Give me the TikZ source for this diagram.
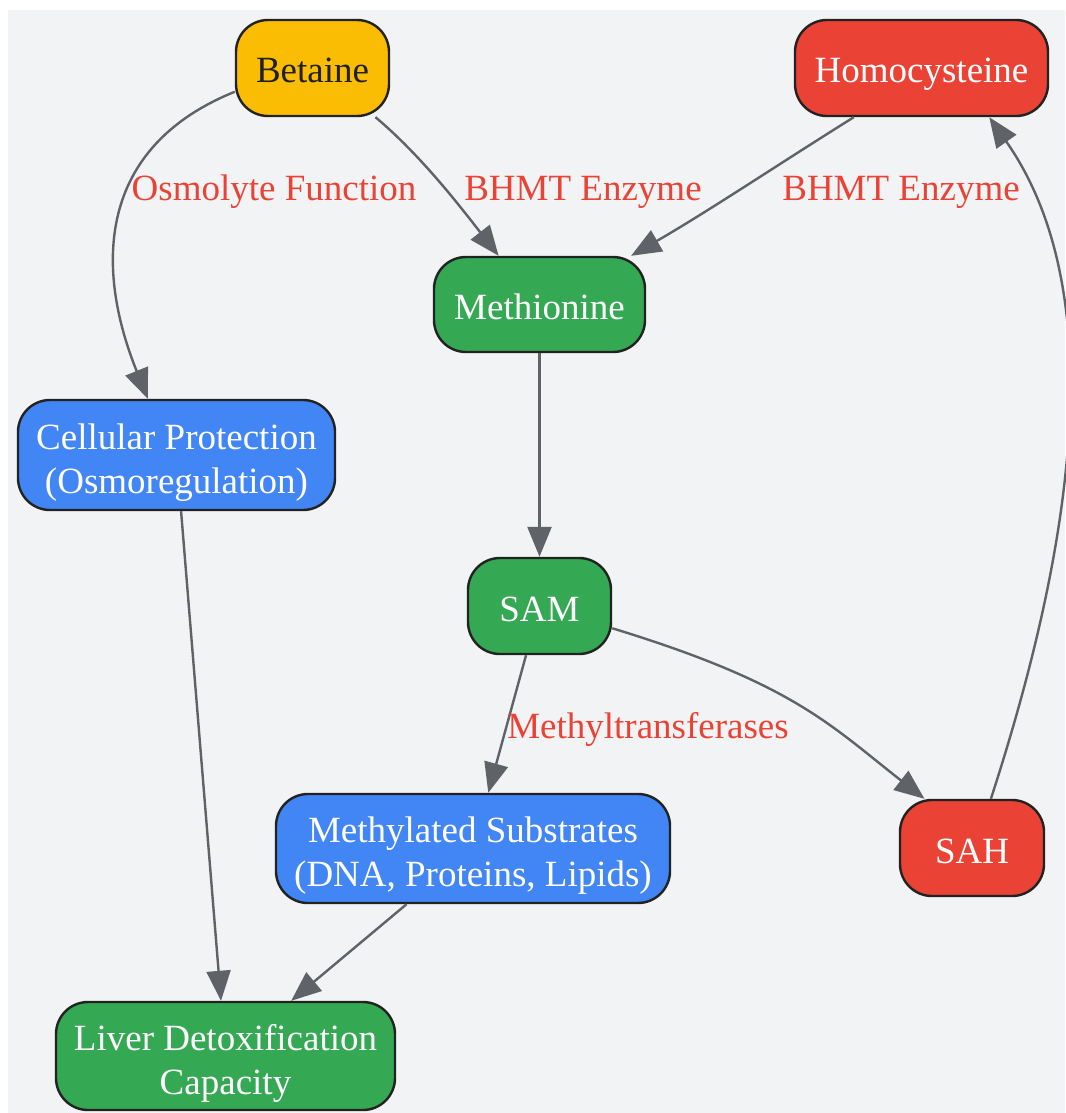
\documentclass[tikz,border=0pt]{standalone}
\usepackage{fontspec}
\setmainfont{Liberation Serif}
\usetikzlibrary{arrows.meta}
\definecolor{bgc}{HTML}{F1F3F4}
\definecolor{bord}{HTML}{222222}
\definecolor{cyel}{HTML}{FBBC04}
\definecolor{cred}{HTML}{EA4335}
\definecolor{cgreen}{HTML}{34A853}
\definecolor{cblue}{HTML}{4285F4}
\definecolor{edgec}{HTML}{5F6368}
\definecolor{darktext}{HTML}{202124}
\newcommand{\bigfs}{\fontsize{37}{44}\selectfont}
\tikzset{
  box/.style={draw=bord, line width=2.4pt, rounded corners=32pt, inner sep=0pt,
              align=center, font=\bigfs, text=white},
  oneline/.style={text height=34pt, text depth=4pt},
  twoline/.style={text height=82pt, text depth=6pt},
  conn/.style={draw=edgec, line width=2.4pt, -{Triangle[length=30pt,width=24pt]}},
  elabel/.style={font=\bigfs, text=cred, inner sep=0pt, text height=34pt, text depth=4pt}
}
\begin{document}
\begin{tikzpicture}[x=1pt,y=1pt]
\useasboundingbox (0,0) rectangle (1065,-1113);
\fill[bgc] (8,-10) rectangle (1065,-1113);

\node[box, oneline, fill=cyel, text=darktext, minimum width=153pt, minimum height=96pt] (bet) at (312.5,-68) {Betaine};
\node[box, oneline, fill=cred, minimum width=253pt, minimum height=96pt] (hcy) at (921.5,-68) {Homocysteine};
\node[box, oneline, fill=cgreen, minimum width=211pt, minimum height=95pt] (met) at (539.5,-304.5) {Methionine};
\node[box, twoline, fill=cblue, minimum width=317pt, minimum height=110pt] (cell) at (176.5,-455) {Cellular Protection\\(Osmoregulation)};
\node[box, oneline, fill=cgreen, minimum width=143pt, minimum height=96pt] (sam) at (539.5,-606) {SAM};
\node[box, twoline, fill=cblue, minimum width=394pt, minimum height=109pt] (mst) at (473,-848.5) {Methylated Substrates\\(DNA, Proteins, Lipids)};
\node[box, oneline, fill=cred, minimum width=144pt, minimum height=96pt] (sah) at (972,-848) {SAH};
\node[box, twoline, fill=cgreen, minimum width=339pt, minimum height=108pt] (liv) at (225.5,-1056) {Liver Detoxification\\Capacity};

\draw[conn] (bet.197) .. controls +(202:150) and +(112:140) .. (cell.117);
\draw[conn] (bet.-38) .. controls +(-40:60) and +(128:60) .. (met.130);
\draw[conn] (hcy.216) .. controls +(212:90) and +(30:90) .. (met.28);
\draw[conn] (met) -- (sam);
\draw[conn] (sam) -- (mst);
\draw[conn] (sam.-17) .. controls +(-17:190) and +(142:120) .. (sah.134);
\draw[conn] (sah.69) .. controls +(72:250) and +(-55:220) .. (hcy.-36);
\draw[conn] (cell) -- (liv);
\draw[conn] (mst) -- (liv);

\node[elabel] (l1) at (274,-185) {Osmolyte Function};
\node[elabel] (l2) at (583,-185) {BHMT Enzyme};
\node[elabel] (l3) at (901,-185) {BHMT Enzyme};
\node[elabel] (l4) at (648,-723) {Methyltransferases};
\end{tikzpicture}
\end{document}
